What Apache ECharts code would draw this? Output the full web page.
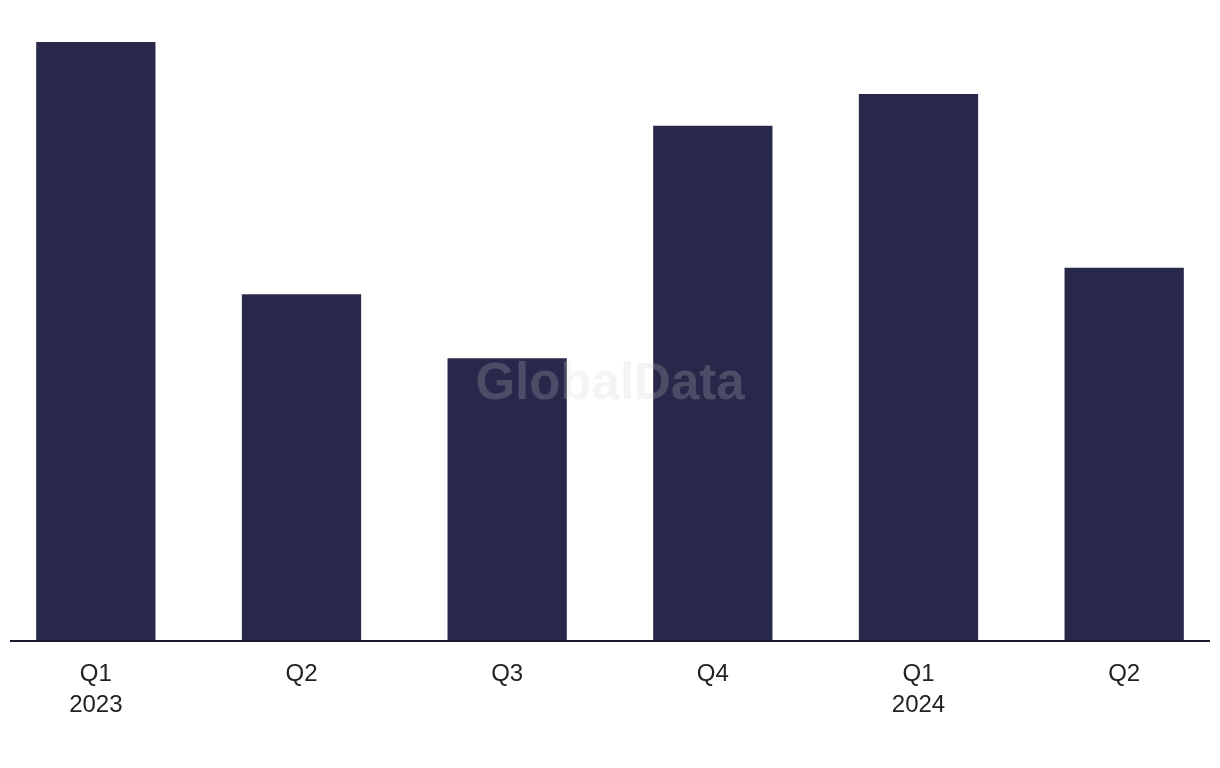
<!DOCTYPE html>
<html>
<head>
<meta charset="utf-8">
<script src="https://cdn.jsdelivr.net/npm/echarts@6/dist/echarts.min.js"></script>
<style>html,body{margin:0;padding:0;background:#fff}#c{width:1220px;height:768px}</style>
</head>
<body>
<div id="c"></div>
<script>
const categories = ['Q1\n2023', 'Q2', 'Q3', 'Q4', 'Q1\n2024', 'Q2'];
const values = [100, 57.9, 47.2, 86, 91.3, 62.3];
const yMax = 100;

const chart = echarts.init(document.getElementById('c'), null, {renderer: 'canvas'});
chart.setOption({
  backgroundColor: '#ffffff',
  animation: false,
  grid: {left: -7, right: -7, top: 42, bottom: 127, containLabel: false, outerBoundsMode: 'none'},
  xAxis: {
    type: 'category',
    data: categories,
    axisLine: {show: false},
    axisTick: {show: false},
    axisLabel: {
      margin: 18,
      color: '#222222',
      fontSize: 24,
      lineHeight: 31,
      fontFamily: 'Liberation Sans, Arial, sans-serif'
    }
  },
  yAxis: {
    type: 'value',
    min: 0,
    max: yMax,
    show: false,
    splitLine: {show: false}
  },
  series: [{
    type: 'bar',
    data: values,
    barCategoryGap: '42%',
    itemStyle: {color: '#28284a'}
  }],
  graphic: [
    {
      type: 'line',
      z: 100,
      shape: {x1: 10, y1: 641, x2: 1210, y2: 641},
      style: {stroke: '#1a1a2e', lineWidth: 2}
    },
    {
      type: 'text',
      z: 200,
      x: 610,
      y: 385,
      style: {
        text: 'GlobalData',
        font: 'bold 51px "Liberation Sans", Arial, sans-serif',
        fill: 'rgba(206,206,206,0.22)',
        align: 'center',
        verticalAlign: 'middle'
      }
    }
  ]
});
</script>
</body>
</html>
